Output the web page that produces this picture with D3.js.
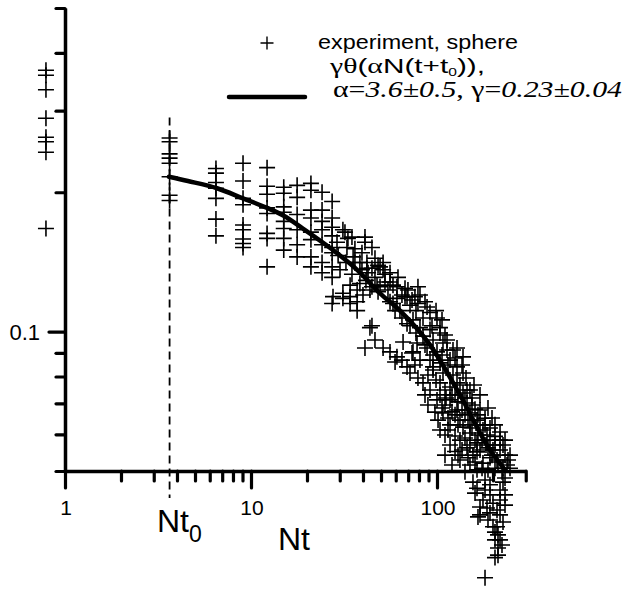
<!DOCTYPE html>
<html><head><meta charset="utf-8">
<script src="https://cdn.jsdelivr.net/npm/d3@7/dist/d3.min.js"></script>
<style>body{margin:0;background:#fff}svg{display:block}</style></head>
<body><svg id="c" width="627" height="589"></svg>
<script>
// ---------- data ----------
const xTickValues = [1,2,3,4,5,6,7,8,9,10,20,30,40,50,60,70,80,90,100,200,300];
const xMajorTicks = [1,10,100];
const xTickLabels = ["1","10","100"];
const yTickValues = [0.05,0.06,0.07,0.08,0.09,0.1,0.2,0.3,0.4,0.5];
const yMajorTicks = [0.1];
const yTickLabels = ["0.1"];
const t0 = 3.65;

// experiment, sphere : Nt values and theta values (parallel arrays)
const expNt = [
 0.79,0.79,0.79,0.79,0.79,0.79,0.79,0.79,
 3.65,3.65,3.65,3.65,3.65,3.65,3.65,3.65,
 6.48,6.48,6.48,6.48,6.48,6.48,6.48,
 9.06,9.06,9.06,9.06,9.06,9.06,9.06,9.06,9.06,
 12.2,12.2,12.2,12.2,12.2,12.2,12.2,12.2,
 15.0,15.0,15.0,15.0,15.0,15.0,15.0,15.0,
 17.7,17.7,17.7,17.7,17.7,17.7,
 21.0,21.0,21.0,21.0,21.0,21.0,21.0,21.0,
 24.1,24.1,24.1,24.1,24.1,24.1,24.1,
 27.3,27.3,27.3,27.3,27.3,27.3,27.3,27.3,27.3,
 29.0,31.2,32.0,32.8,33.2,34.9,36.2,35.4,39.5,41.0,41.0,44.7,42.0,46.4,48.2,51.3,51.3,55.9,46.4,42.6,
 39.5,38.5,44.7,49.4,55.9,60.9,67.3,79.0,76.1,69.0,60.9,55.9,27.6,31.2,34.1,30.1,36.2,42.0,49.4,52.5,
 47.6,43.6,40.0,37.2,31.2,63.2,58.0,67.3,79.0,71.6,88.4,91.7,100,84.1,74.3,69.0,81.0,91.7,103.8,84.1,
 95.2,107.7,78.1,88.4,100,113.2,128.1,138,91.7,103.8,117.5,128.1,95.2,107.7,121.9,138,103.8,117.5,132.9,145,
 121.9,113.2,103.8,81.0,74.3,95.2,128.1,138,150.4,164.1,176.7,192.7,117.5,128.1,138,150.4,164.1,91.7,100,107.7,
 145,34.1,37.2,43.6,41.0,46.4,51.3,55.9,60.9,64.8,69.0,71.6,65.7,73.4,79.0,84.1,44.7,59.5,76.1,
 86.2,89.4,97.5,110.4,125,154.2,160.1,132.9,117.5,103.8,181.2,170.3,192.7,205,183.4,132.9,117.5,145,156.1,170.3,
 218.2,210.2,232.1,237.9,192.7,176.7,150.4,132.9,125,164.1,205,223.6,246.9,141.4,110.4,125,141.4,170.3,150.4,185.7,
 218.2,103.8,114.6,200,160.1,
 156.1,164.1,160.1,176.7,170.3,166.1,200,210.2,192.7,200,205,218.2,223.6,212.8,205,181.2,218.2,226.4,181.2,210.2,
 218.2,192.7,232.1,185.7,212.8,170.3,
 29.4,32.4,34.9,38.5,41.5,44.7,48.2,52.5,54.5,58.0,61.7,64.8,69.8,73.4,77.1,81.0,86.2,94.0,98.8,106.4,
 110.4,34.1,37.2,59.5,64.8,71.6,77.1,86.2,95.2,106.4,114.6,125.0,136.3,143.2,150.4,158.1,
 89.4,98.8,110.4,120.4,129.7,136.3,146.8,154.2,166.1,174.6,188.0,197.6,212.8,226.4,240.9,101.3,106.4,114.6,125.0,136.3,
 146.8,160.1,174.6,188.0,205,218.2,226.4,181.2,197.6,166.1,154.2,141.4,129.7,120.4,111.8,170.3,188.0,205,232.1,246.9,
 164.1,150.4,141.4,129.7,120.4,110.4,
 181.2,192.7,232.1,218.2,226.4,188.0,205,212.8,232.1
];
const expTheta = [
 0.367,0.358,0.333,0.289,0.263,0.257,0.244,0.167,
 0.262,0.257,0.242,0.237,0.231,0.216,0.197,0.192,
 0.225,0.220,0.210,0.204,0.194,0.175,0.161,
 0.231,0.2115,0.194,0.188,0.170,0.166,0.1585,0.155,0.152,
 0.226,0.206,0.198,0.185,0.180,0.163,0.159,0.138,
 0.205,0.199,0.186,0.181,0.173,0.167,0.159,0.150,
 0.207,0.195,0.179,0.166,0.154,0.145,
 0.209,0.202,0.183,0.176,0.164,0.158,0.145,0.138,
 0.200,0.183,0.173,0.166,0.154,0.141,0.134,
 0.191,0.176,0.168,0.161,0.152,0.148,0.138,0.131,0.115,
 0.156,0.166,0.164,0.152,0.159,0.160,0.151,0.145,0.148,0.156,0.160,0.152,0.141,0.144,0.139,0.136,0.141,0.134,0.131,0.134,
 0.136,0.127,0.125,0.125,0.128,0.125,0.124,0.125,0.119,0.119,0.118,0.116,0.119,0.118,0.115,0.136,0.141,0.137,0.138,0.128,
 0.126,0.123,0.120,0.116,0.121,0.111,0.115,0.119,0.115,0.114,0.113,0.110,0.107,0.107,0.106,0.104,0.102,0.101,0.102,0.0978,
 0.0959,0.0945,0.0945,0.0922,0.0904,0.0913,0.0922,0.0882,0.0868,0.0856,0.0868,0.0839,0.0826,0.0814,0.0806,0.0814,0.0775,0.0759,0.0767,0.0748,
 0.0913,0.0959,0.0993,0.0868,0.0904,0.0839,0.0775,0.0737,0.0667,0.0644,0.0613,0.0583,0.0712,0.0677,0.0622,0.0604,0.0575,0.0748,0.0712,0.0667,
 0.0701,0.119,0.111,0.102,0.0922,0.0959,0.0922,0.0904,0.0882,0.0868,0.0839,0.0814,0.0950,0.0899,0.0794,0.0775,0.103,0.0860,0.0847,
 0.0730,0.0694,0.0670,0.0694,0.0730,0.0719,0.0680,0.0644,0.0629,0.0613,0.0650,0.0629,0.0619,0.0594,0.0569,0.0583,0.0569,0.0561,0.0541,0.0555,
 0.0555,0.0528,0.0541,0.0515,0.0534,0.0520,0.0515,0.0528,0.0551,0.0503,0.0507,0.0498,0.0507,0.0498,0.0598,0.0661,0.0661,0.0677,0.0629,0.0598,
 0.0583,0.0730,0.0651,0.0555,0.0583,
 0.0473,0.0459,0.0448,0.0433,0.0418,0.0398,0.0426,0.0412,0.0406,0.0379,0.0369,0.0355,0.0346,0.0341,0.0325,0.0294,0.0455,0.0473,0.0478,0.0379,
 0.0433,0.0444,0.0483,0.0416,0.0364,0.0402,
 0.146,0.141,0.133,0.141,0.129,0.137,0.122,0.133,0.123,0.126,0.131,0.120,0.123,0.117,0.111,0.120,0.116,0.103,0.111,0.106,
 0.0983,0.126,0.123,0.111,0.107,0.103,0.0993,0.0936,0.0890,0.0890,0.0847,0.0877,0.0847,0.0794,0.0748,0.0767,
 0.0806,0.0786,0.0748,0.0730,0.0705,0.0677,0.0644,0.0619,0.0598,0.0583,0.0561,0.0541,0.0523,0.0507,0.0528,0.0644,0.0684,0.0613,0.0595,0.0555,
 0.0534,0.0523,0.0507,0.0503,0.0569,0.0607,0.0569,0.0629,0.0651,0.0661,0.0694,0.0719,0.0629,0.0671,0.0719,0.0730,0.0684,0.0629,0.0583,0.0541,
 0.0550,0.0569,0.0589,0.0541,0.0515,0.0541,
 0.0455,0.0467,0.0444,0.0402,0.0388,0.0392,0.0355,0.0329,0.0422
];

// fit curve gamma*theta(alpha N (t+t0))
const fitNt    = [3.62, 4.58, 6.57, 9.06, 12.2, 15.0, 19.0, 27.6, 37.2, 49.4, 63.2, 91.7, 132.9, 192.7, 232];
const fitTheta = [0.216,0.2115,0.204,0.194,0.185,0.178,0.167,0.150,0.136,0.121,0.111,0.0936,0.0730,0.0555,0.0503];

// ---------- drawing ----------
const svg = d3.select("#c");
const sans = "'Liberation Sans', Arial, sans-serif";
const serif = "'Liberation Serif', 'Times New Roman', serif";

const x = d3.scaleLog().domain([1, 300]).range([65, 65 + 186 * Math.log10(300)]);
const y = d3.scaleLog().domain([0.05, 0.5]).range([471, 8]);

// x axis
const gx = svg.append("g").attr("transform", "translate(0,471)")
  .call(d3.axisBottom(x).tickValues(xTickValues).tickSize(10).tickSizeOuter(0).tickFormat(""));
gx.select(".domain").attr("stroke", "#000").attr("stroke-width", 3.5);
gx.selectAll(".tick line").attr("stroke", "#000").attr("stroke-width", 3.2).attr("stroke-linecap", "round")
  .attr("y2", d => xMajorTicks.includes(d) ? 17 : 10);
gx.selectAll(".tick text").remove();

// y axis
const gy = svg.append("g").attr("transform", "translate(65,0)")
  .call(d3.axisLeft(y).tickValues(yTickValues).tickSize(9).tickSizeOuter(0).tickFormat(""));
gy.select(".domain").attr("stroke", "#000").attr("stroke-width", 3.5);
gy.selectAll(".tick line").attr("stroke", "#000").attr("stroke-width", 3.2).attr("stroke-linecap", "round")
  .attr("x2", d => yMajorTicks.includes(d) ? -16 : -9);
gy.selectAll(".tick text").remove();

// tick labels
svg.selectAll("text.xl").data(xMajorTicks).enter().append("text")
  .attr("x", d => x(d) + 1).attr("y", 515)
  .attr("text-anchor", "middle").attr("font-family", sans).attr("font-size", 21)
  .text((d, i) => xTickLabels[i]);
svg.selectAll("text.yl").data(yMajorTicks).enter().append("text")
  .attr("x", 40).attr("y", d => y(d) + 8)
  .attr("text-anchor", "end").attr("font-family", sans).attr("font-size", 22)
  .text((d, i) => yTickLabels[i]);

// dashed t0 line
svg.append("line")
  .attr("x1", x(t0)).attr("x2", x(t0))
  .attr("y1", y(0.29)).attr("y2", y(0.0437))
  .attr("stroke", "#000").attr("stroke-width", 1.8).attr("stroke-dasharray", "8,5");

// scatter
const plus = "M-8,0H8M0,-8V8";
svg.append("g").selectAll("path").data(expNt.map((d, i) => [d, expTheta[i]])).enter()
  .append("path")
  .attr("transform", d => `translate(${x(d[0])},${y(d[1])})`)
  .attr("d", plus).attr("stroke", "#000").attr("stroke-width", 1.6).attr("fill", "none");

// fit curve
const line = d3.line().x(d => x(d[0])).y(d => y(d[1])).curve(d3.curveMonotoneX);
svg.append("path").datum(fitNt.map((d, i) => [d, fitTheta[i]]))
  .attr("d", line).attr("fill", "none").attr("stroke", "#000").attr("stroke-width", 4.5)
  .attr("stroke-linecap", "round").attr("stroke-linejoin", "round");

// axis titles
const nt0 = svg.append("text").attr("x", 157).attr("y", 532)
  .attr("font-family", sans).attr("font-size", 32);
nt0.append("tspan").text("Nt");
nt0.append("tspan").attr("font-size", 23).attr("dy", 10).text("0");
svg.append("text").attr("x", 278).attr("y", 550)
  .attr("font-family", sans).attr("font-size", 32).text("Nt");

// legend
svg.append("path").attr("transform", "translate(267,43)")
  .attr("d", "M-6.5,0H6.5M0,-6.5V6.5").attr("stroke", "#000").attr("stroke-width", 1.4);
svg.append("text").attr("x", 318).attr("y", 49)
  .attr("font-family", sans).attr("font-size", 20)
  .attr("textLength", 200).attr("lengthAdjust", "spacingAndGlyphs")
  .text("experiment, sphere");
svg.append("line").attr("x1", 229).attr("x2", 305).attr("y1", 97).attr("y2", 97)
  .attr("stroke", "#000").attr("stroke-width", 4.5).attr("stroke-linecap", "round");

const l2 = svg.append("text").attr("x", 330).attr("y", 73).attr("font-size", 21)
  .attr("textLength", 155).attr("lengthAdjust", "spacingAndGlyphs");
l2.append("tspan").attr("font-family", serif).text("γθ");
l2.append("tspan").attr("font-family", sans).text("(");
l2.append("tspan").attr("font-family", serif).text("α");
l2.append("tspan").attr("font-family", sans).text("N(t+t");
l2.append("tspan").attr("font-family", sans).attr("font-size", 11).attr("dy", 3).text("0");
l2.append("tspan").attr("font-family", sans).attr("dy", -3).text(")),");

const l3 = svg.append("text").attr("x", 333).attr("y", 97).attr("font-size", 23)
  .attr("font-family", serif)
  .attr("textLength", 289).attr("lengthAdjust", "spacingAndGlyphs");
l3.append("tspan").text("α=");
l3.append("tspan").attr("font-style", "italic").text("3.6±0.5");
l3.append("tspan").text(", γ=");
l3.append("tspan").attr("font-style", "italic").text("0.23±0.04");
</script></body></html>
